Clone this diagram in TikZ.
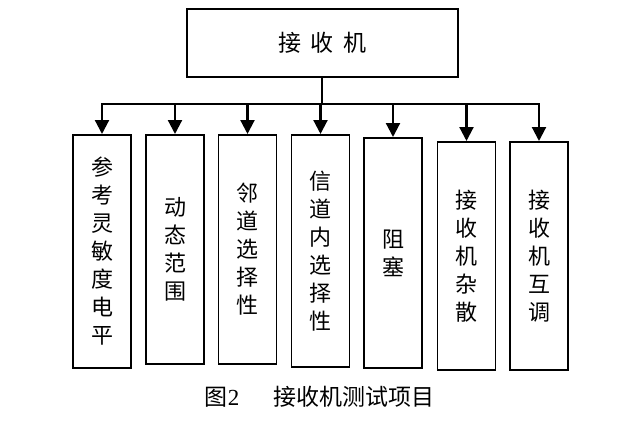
\documentclass[tikz,border=0pt]{standalone}
\usepackage{fontspec}
\setmainfont{Noto Sans CJK SC}
\newfontfamily\lserif{Liberation Serif}
\usetikzlibrary{arrows.meta}
\tikzset{
  ln/.style={line width=2.2pt},
  arr/.style={ln, -{Triangle[length=14pt,width=14pt]}},
  col/.style={draw, line width=1.8pt, minimum width=58pt, inner sep=0pt,
    align=center, anchor=north, font=\fontsize{22pt}{28pt}\selectfont},
  topbox/.style={draw, line width=1.8pt, minimum width=271pt, minimum height=68pt,
    inner sep=0pt, font=\fontsize{23pt}{26pt}\selectfont},
  captext/.style={font=\fontsize{23pt}{26pt}\selectfont, inner sep=0pt}
}
\begin{document}
\begin{tikzpicture}[x=1pt,y=-1pt]
\fill[white] (0,0) rectangle (640,436);
\useasboundingbox (0,0) rectangle (640,436);
\node[topbox] (top) at (322.5,43) {接\hspace{10pt}收\hspace{10pt}机};
\coordinate (j) at (322,104);
\node[col, minimum height=233pt] (b1) at (102,134) {参\\考\\灵\\敏\\度\\电\\平};
\node[col, minimum height=229pt] (b2) at (175,134) {动\\态\\范\\围};
\node[col, minimum height=229pt] (b3) at (247.5,134) {邻\\道\\选\\择\\性};
\node[col, minimum height=232pt] (b4) at (320.5,134) {信\\道\\内\\选\\择\\性};
\node[col, minimum height=230pt] (b5) at (393,137) {阻\\塞};
\node[col, minimum height=228pt] (b6) at (466.5,141) {接\\收\\机\\杂\\散};
\node[col, minimum height=228pt] (b7) at (539,141) {接\\收\\机\\互\\调};
\draw[ln] (top.south -| j) -- (j);
\draw[arr] (j) -| (b1.north);
\draw[arr] (j) -| (b7.north);
\draw[arr] (b2.north |- j) -- (b2.north);
\draw[arr] (b3.north |- j) -- (b3.north);
\draw[arr] (b4.north |- j) -- (b4.north);
\draw[arr] (b5.north |- j) -- (b5.north);
\draw[arr] (b6.north |- j) -- (b6.north);
\node[captext] (caption) at (319.5,397) {图{\lserif 2}\hspace{34pt}接收机测试项目};
\end{tikzpicture}
\end{document}
